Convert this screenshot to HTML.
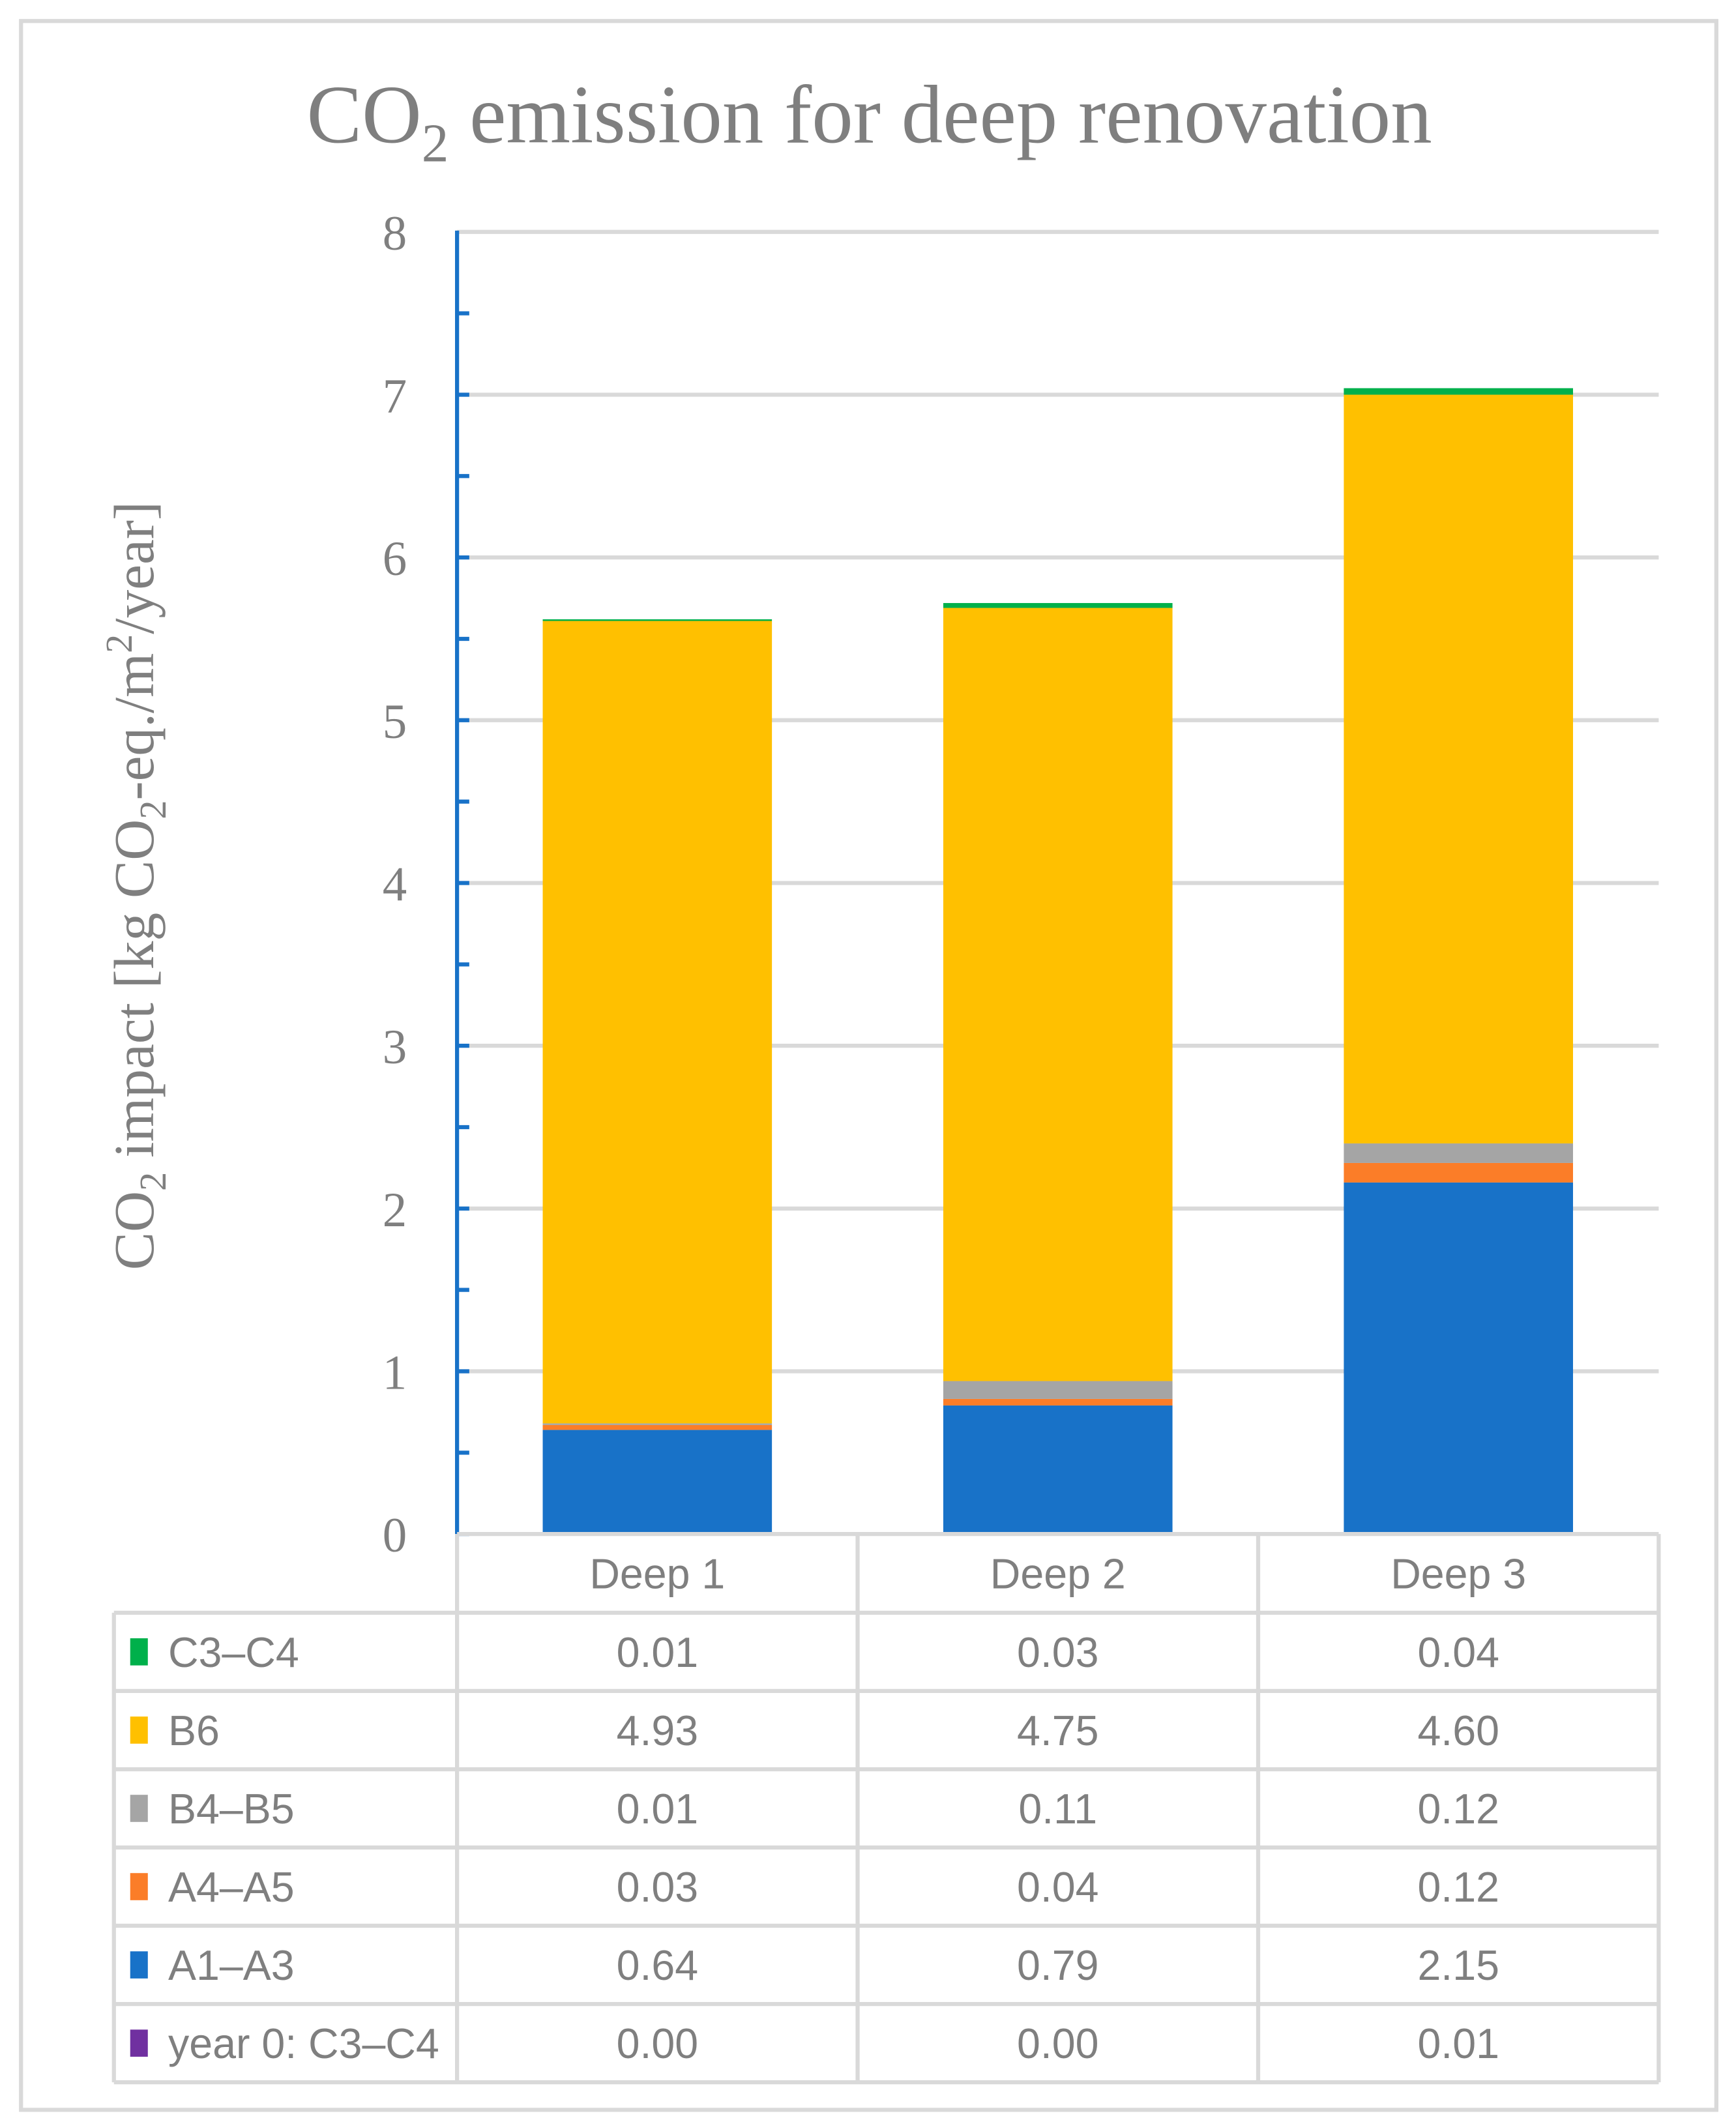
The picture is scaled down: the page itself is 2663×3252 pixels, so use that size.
<!DOCTYPE html>
<html><head><meta charset="utf-8"><style>
html,body{margin:0;padding:0;background:#fff;}
svg{display:block;}
.serif{font-family:"Liberation Serif",serif;fill:#7f7f7f;}
.sans{font-family:"Liberation Sans",sans-serif;fill:#7f7f7f;}
</style></head><body>
<svg id="chart" width="2663" height="3252" viewBox="0 0 1280 1563" preserveAspectRatio="none" xmlns="http://www.w3.org/2000/svg">
<rect x="15.5" y="15.5" width="1250" height="1540" fill="#fff" stroke="#d9d9d9" stroke-width="3"/>
<text class="serif" x="641" y="105" font-size="61" text-anchor="middle">CO<tspan font-size="40" dy="14">2</tspan><tspan dy="-14"> emission for deep renovation</tspan></text>
<text class="serif" font-size="42" text-anchor="middle" transform="translate(113,653) rotate(-90)">CO<tspan font-size="28" dy="9">2</tspan><tspan dy="-9"> impact [kg CO</tspan><tspan font-size="28" dy="9">2</tspan><tspan dy="-9">-eq./m</tspan><tspan font-size="28" dy="-16">2</tspan><tspan dy="16">/year]</tspan></text>
<g id="grid"></g>
<g id="bars"></g>
<g id="axis"></g>
<g id="table"></g>
</svg>
<script>
const categories = ["Deep 1","Deep 2","Deep 3"];
const seriesNames = ["year 0: C3\u2013C4","A1\u2013A3","A4\u2013A5","B4\u2013B5","B6","C3\u2013C4"];
const seriesColors = ["#7030a0","#1872c8","#fb7d28","#a5a5a5","#ffc000","#00b04b"];
const year0 = [0.00,0.00,0.01];
const a1a3 = [0.64,0.79,2.15];
const a4a5 = [0.03,0.04,0.12];
const b4b5 = [0.01,0.11,0.12];
const b6 = [4.93,4.75,4.60];
const c3c4 = [0.01,0.03,0.04];
const yTicks = [0,1,2,3,4,5,6,7,8];

const NS="http://www.w3.org/2000/svg";
const X0=337, X1=1223, Y0=1131, Y8=171, YMAX=8;
const catW=(X1-X0)/categories.length, barW=169;
function yScale(v){return Y0-(v/YMAX)*(Y0-Y8);}
function xCenter(i){return X0+catW*(i+0.5);}
function mk(tag,attrs,parent){const e=document.createElementNS(NS,tag);for(const k in attrs)e.setAttribute(k,attrs[k]);parent.appendChild(e);return e;}
const grid=document.getElementById('grid'),bars=document.getElementById('bars'),axis=document.getElementById('axis'),table=document.getElementById('table');

yTicks.forEach(t=>{
  const y=yScale(t);
  if(t>0){const l=mk('line',{x1:X0,x2:X1,y1:y,y2:y,stroke:'#d9d9d9','stroke-width':3},grid);
  
  }
  const tx=mk('text',{x:300,y:y+13,'font-size':36,'text-anchor':'end',class:'serif'},axis);
  tx.textContent=t;
  
  
});
for(let k=0;k<YMAX*2;k++){
  const y=yScale(k/2);
  const tk=mk('line',{x1:X0,x2:X0+9,y1:y,y2:y,stroke:'#1872c8','stroke-width':3},axis);
  
  
}
const ax=mk('line',{x1:X0,x2:X0,y1:Y8-1,y2:Y0,stroke:'#1872c8','stroke-width':3},axis);



const series=[year0,a1a3,a4a5,b4b5,b6,c3c4];
categories.forEach((c,i)=>{
  let acc=0;
  series.forEach((s,j)=>{
    const v=s[i]; const top=yScale(acc+v), bot=yScale(acc); acc+=v;
    if(v<=0) return;
    const r=mk('rect',{x:xCenter(i)-barW/2,y:top,width:barW,height:Math.max(bot-top,0),fill:seriesColors[j]},bars);
    
    
  });
});

const rowH=57.7, hdrTop=1131, hdrBot=1189, TL=84;
const order=[5,4,3,2,1,0];
const gray='#d9d9d9';
function ln(x1,y1,x2,y2,name){const l=mk('line',{x1:x1,y1:y1,x2:x2,y2:y2,stroke:gray,'stroke-width':3},table);}
const tBot=hdrBot+rowH*order.length;
ln(X0,hdrTop,X1,hdrTop,'table-top');
ln(TL,hdrBot,X1,hdrBot,'table-header-bottom');
for(let r=1;r<=order.length;r++) ln(TL,hdrBot+rowH*r,X1,hdrBot+rowH*r,'table-row-line');
ln(TL,hdrBot,TL,tBot,'table-left');
for(let c=0;c<=3;c++) ln(X0+catW*c,hdrTop,X0+catW*c,tBot,'table-col-line');
categories.forEach((c,i)=>{
  const t=mk('text',{x:xCenter(i),y:hdrTop+40,'font-size':31,'text-anchor':'middle',class:'sans'},table);
  t.textContent=c;
  
  
});
order.forEach((j,r)=>{
  const yT=hdrBot+rowH*r, cy=yT+rowH/2;
  const sq=mk('rect',{x:96,y:cy-10,width:13,height:20,fill:seriesColors[j]},table);
  
  
  const lt=mk('text',{x:124,y:cy+11,'font-size':31,class:'sans'},table);
  lt.textContent=seriesNames[j];
  
  
  categories.forEach((c,i)=>{
    const vt=mk('text',{x:xCenter(i),y:cy+11,'font-size':31,'text-anchor':'middle',class:'sans'},table);
    vt.textContent=series[j][i].toFixed(2);
    
    
  });
});
</script>
</body></html>
